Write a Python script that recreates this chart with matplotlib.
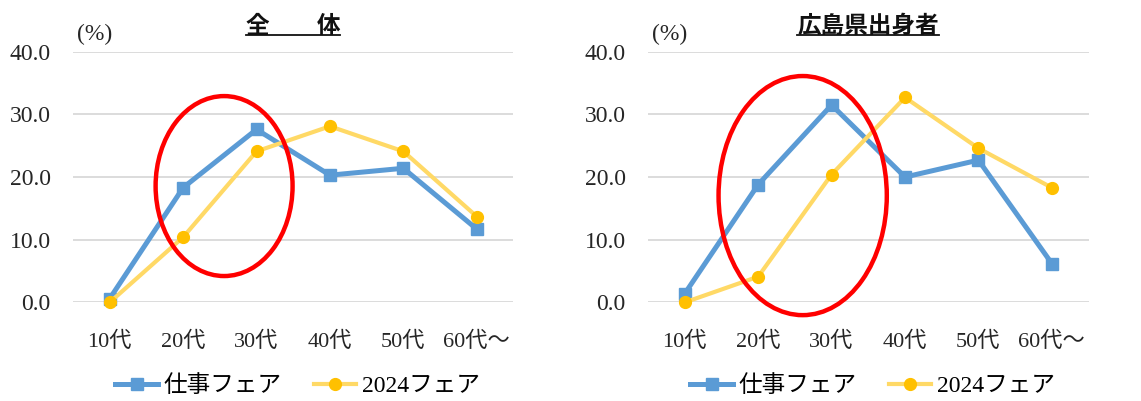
import matplotlib
matplotlib.use('Agg')
import matplotlib.pyplot as plt
from matplotlib.patches import Ellipse
from matplotlib.lines import Line2D

# データ
categories = ['10代', '20代', '30代', '40代', '50代', '60代～']
series_names = ['仕事フェア', '2024フェア']

zentai_shigoto = [0.6, 18.3, 27.6, 20.3, 21.4, 11.7]
zentai_2024 = [0.0, 10.4, 24.1, 28.1, 24.1, 13.7]

hiroshima_shigoto = [1.4, 18.8, 31.5, 20.0, 22.7, 6.2]
hiroshima_2024 = [0.0, 4.1, 20.4, 32.7, 24.6, 18.3]

titles = ['全　　体', '広島県出身者']
yticks = [0, 10, 20, 30, 40]

# 書式
serif_fam = ['Liberation Serif', 'Noto Sans CJK JP']
sans_fam = ['Noto Sans CJK JP', 'DejaVu Sans']
plt.rcParams['font.family'] = serif_fam

BLUE = '#5B9BD5'
YELLOW_LINE = '#FFD966'
YELLOW_MARK = '#FFC000'
GRID = '#D9D9D9'
TXT = '#262626'

fig = plt.figure(figsize=(11.41, 4.01), dpi=100)

panels = [
    (0.064, titles[0], zentai_shigoto, zentai_2024, (0.343, 0.464, 0.311, 0.718)),
    (0.568, titles[1], hiroshima_shigoto, hiroshima_2024, (0.351, 0.426, 0.382, 0.954)),
]

title_texts = []
for left, title, s1, s2, ell in panels:
    ax = fig.add_axes([left, 0.246, 0.386, 0.625])
    x = range(len(categories))
    ax.plot(x, s1, color=BLUE, lw=3.6, marker='s', ms=8.5,
            label=series_names[0], clip_on=False, zorder=3)
    ax.plot(x, s2, color=YELLOW_LINE, lw=3.0, marker='o', ms=8.5,
            mfc=YELLOW_MARK, mec=YELLOW_MARK,
            label=series_names[1], clip_on=False, zorder=4)

    ax.set_xlim(-0.5, len(categories) - 0.5)
    ax.set_ylim(0, 40)
    ax.set_yticks(yticks)
    ax.set_yticklabels([f'{v:.1f}' for v in yticks], fontsize=17, color=TXT)
    ax.set_xticks(list(x))
    ax.set_xticklabels(categories, fontsize=16, color=TXT)
    ax.tick_params(axis='both', length=0)
    ax.tick_params(axis='y', pad=16)
    ax.tick_params(axis='x', pad=21)
    ax.yaxis.grid(True, color=GRID, lw=1.3)
    ax.set_axisbelow(True)
    for sp in ax.spines.values():
        sp.set_visible(False)

    ax.text(0.01, 1.07, '(%)', transform=ax.transAxes, fontsize=17,
            color=TXT, ha='left', va='center')

    # 赤い楕円
    e = Ellipse((ell[0], ell[1]), ell[2], ell[3], transform=ax.transAxes,
                fill=False, ec='#FF0000', lw=3.2, clip_on=False, zorder=5)
    ax.add_patch(e)

    t = fig.text(left + 0.193, 0.935, title, fontsize=17, family=sans_fam,
                 weight='bold', ha='center', va='center', color='#111111')
    title_texts.append(t)

    ax.legend(loc='center', bbox_to_anchor=(left + 0.197, 0.037),
              bbox_transform=fig.transFigure, ncol=2, frameon=False,
              fontsize=17, handlelength=1.8, handletextpad=0.25,
              columnspacing=1.35, borderaxespad=0, borderpad=0)

# タイトル下線
fig.canvas.draw()
inv = fig.transFigure.inverted()
for t in title_texts:
    bb = t.get_window_extent().transformed(inv)
    fig.add_artist(Line2D([bb.x0, bb.x1], [bb.y0 + 0.008, bb.y0 + 0.008],
                          color='#111111', lw=1.3, transform=fig.transFigure))

fig.savefig('out.png', dpi=100)
